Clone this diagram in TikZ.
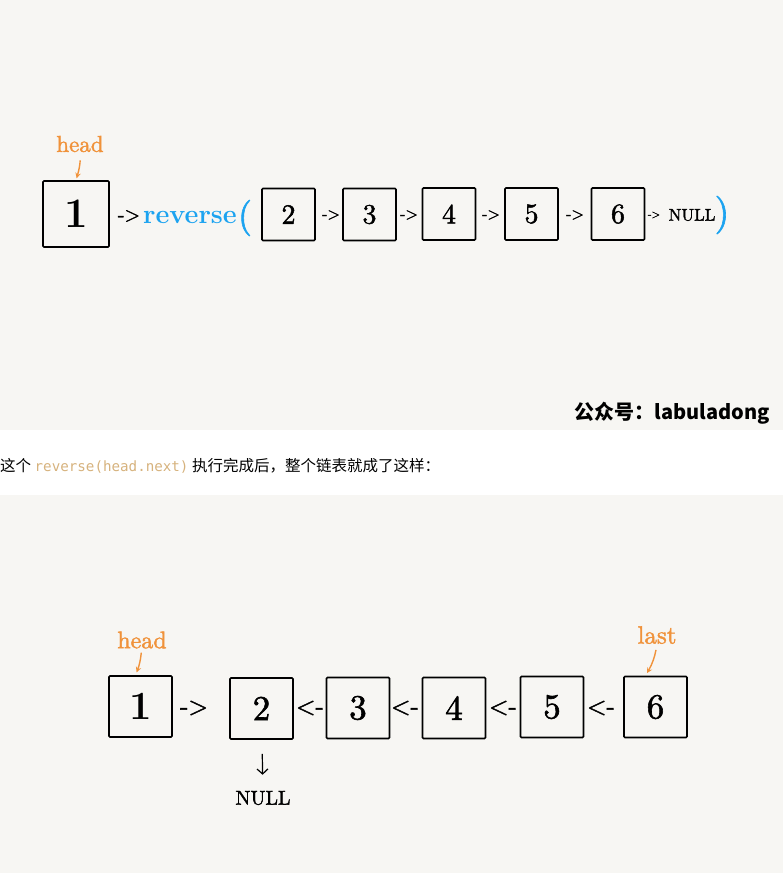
\documentclass[tikz,border=0pt]{standalone}
\usepackage{fontspec}
\usepackage{xcolor}
\newfontfamily\cjk{Noto Sans CJK SC}
\newfontfamily\codefont{DejaVu Sans Mono}
\newfontfamily\heavyrm{lmroman10-regular.otf}[FakeBold=1.6]
\usetikzlibrary{positioning,arrows.meta}
\definecolor{paper}{RGB}{247,246,243}
\definecolor{revblue}{RGB}{28,163,240}
\definecolor{ptrorange}{RGB}{240,146,58}
\definecolor{codetan}{RGB}{214,178,125}
\tikzset{box/.style={draw,line width=1.6pt,rounded corners=1pt,minimum width=53pt,minimum height=52pt,inner sep=0pt,font=\heavyrm\fontsize{28}{28}\selectfont}}
\tikzset{bigbox/.style={box,minimum width=66pt,minimum height=66pt,font=\fontsize{42}{42}\selectfont\bfseries}}
\tikzset{lowbox/.style={box,minimum width=63pt,minimum height=61pt,font=\heavyrm\fontsize{35}{35}\selectfont}}
\tikzset{ptr/.style={text=ptrorange,inner sep=0pt}}
\tikzset{link/.style={inner sep=0pt,font=\heavyrm\fontsize{16}{16}\selectfont}}

\begin{document}
\begin{tikzpicture}[x=1pt,y=-1pt,>=stealth]
    \useasboundingbox (0,0) rectangle (783,873);
    \fill[paper] (0,0) rectangle (783,430);
    \fill[paper] (0,495) rectangle (783,873);

    % before the call
    \node[bigbox] (b1) at (76,214) {1};
    \node[ptr,font=\heavyrm\fontsize{23}{23}\selectfont] (head1) at (80,144) {head};
    \node[link,font=\heavyrm\fontsize{20}{20}\selectfont] (l1) at (129,216) {->};
    \node[anchor=base west,inner sep=0pt,text=revblue,font=\fontsize{27}{27}\selectfont\bfseries] (rev) at (143,223) {reverse};
    \node[inner sep=0pt,text=revblue,font=\heavyrm\fontsize{36}{36}\selectfont] (lp) at (245,218) {(};
    \node[box] (t2) at (288.5,214.5) {2};
    \node[link] (l2) at (331,215) {->};
    \node[box] (t3) at (369.5,214.5) {3};
    \node[link] (l3) at (409,215) {->};
    \node[box] (t4) at (449,214) {4};
    \node[link] (l4) at (491,215) {->};
    \node[box] (t5) at (531.5,214) {5};
    \node[link] (l5) at (575,215) {->};
    \node[box] (t6) at (618,214) {6};
    \node[link,font=\heavyrm\fontsize{11}{11}\selectfont] (l6) at (654,215) {->};
    \node[inner sep=0pt,font=\heavyrm\fontsize{17}{17}\selectfont] (null1) at (692,215) {NULL};
    \node[inner sep=0pt,text=revblue,font=\heavyrm\fontsize{38}{38}\selectfont] (rp) at (722,215) {)};

    \draw[->,ptrorange,line width=1.4pt,shorten <=8pt,shorten >=2pt] (head1) to[bend left=8] (b1.north);

    \node[anchor=base east,inner sep=0pt,font=\cjk\bfseries\fontsize{20}{20}\selectfont] (mark) at (770,419) {公众号：labuladong};

    \node[anchor=west,inner sep=0pt,font=\cjk\fontsize{15.5}{15.5}\selectfont] (line) at (0,466)
        {这个 {\codefont\fontsize{14.2}{14.2}\selectfont\color{codetan}reverse(head.next)} 执行完成后，整个链表就成了这样：};

    % after the call
    \node[lowbox,font=\fontsize{40}{40}\selectfont\bfseries] (s1) at (140.5,706.5) {1};
    \node[ptr,font=\heavyrm\fontsize{24}{24}\selectfont] (head2) at (142,640) {head};
    \node[link,font=\heavyrm\fontsize{25}{25}\selectfont] (m1) at (194,708) {->};
    \node[lowbox] (s2) at (261.5,708.5) {2};
    \node[link,font=\heavyrm\fontsize{25}{25}\selectfont] (m2) at (310,708) {<-};
    \node[lowbox] (s3) at (358,708) {3};
    \node[link,font=\heavyrm\fontsize{25}{25}\selectfont] (m3) at (405,708) {<-};
    \node[lowbox] (s4) at (454,708) {4};
    \node[link,font=\heavyrm\fontsize{25}{25}\selectfont] (m4) at (503,708) {<-};
    \node[lowbox] (s5) at (552,707) {5};
    \node[link,font=\heavyrm\fontsize{25}{25}\selectfont] (m5) at (601,708) {<-};
    \node[lowbox] (s6) at (655.5,707) {6};
    \node[ptr,font=\heavyrm\fontsize{25}{25}\selectfont] (last) at (657,635) {last};
    \node[inner sep=0pt,font=\heavyrm\fontsize{20}{20}\selectfont] (null2) at (263,798) {NULL};

    \draw[->,ptrorange,line width=1.4pt,shorten <=4pt,shorten >=3pt] (head2) to[bend left=8] ([xshift=-5pt]s1.north);
    \draw[->,ptrorange,line width=1.4pt,shorten <=6pt,shorten >=3pt] (last.south) to[bend left=10] ([xshift=-10pt]s6.north);
    \draw[-{Straight Barb[length=5pt,width=11pt]},line width=1.2pt,shorten <=14pt,shorten >=16pt] (s2) -- (null2);
\end{tikzpicture}
\end{document}
